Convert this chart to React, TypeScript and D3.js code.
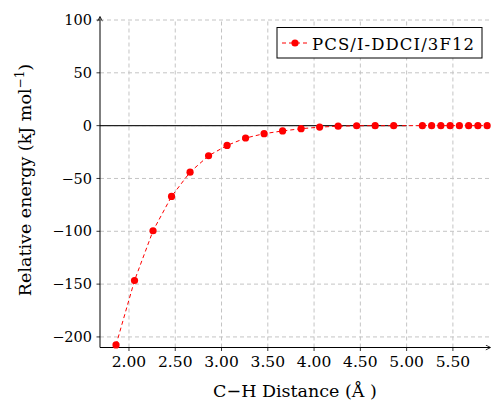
import { useEffect, useRef } from "react";
import * as d3 from "d3";

// C–H distance (Å) and relative energy (kJ/mol)
const distances = [
  1.86, 2.06, 2.26, 2.46, 2.66, 2.86, 3.06, 3.26, 3.46, 3.66, 3.86, 4.06, 4.26, 4.46, 4.66, 4.86,
  5.17, 5.27, 5.37, 5.47, 5.57, 5.67, 5.77, 5.87,
];
const energies = [
  -207.6, -146.6, -99.5, -67, -44, -28.5, -18.7, -11.7, -7.6, -5.0, -2.9, -1.4, -0.5, -0.1, 0, 0,
  0, 0, 0, 0, 0, 0, 0, 0,
];
const xTicks = [2.0, 2.5, 3.0, 3.5, 4.0, 4.5, 5.0, 5.5];
const yTicks = [-200, -150, -100, -50, 0, 50, 100];
const seriesName = "PCS/I-DDCI/3F12";

const FONT = "'DejaVu Serif', 'Liberation Serif', serif";

const App = () => {
  const ref = useRef<SVGSVGElement | null>(null);

  useEffect(() => {
    const el = ref.current;
    if (!el) return;
    const svg = d3.select(el);
    svg.selectAll("*").remove();

    const W = 491, H = 403;
    const left = 100, right = 489, top = 20, bottom = 347.5;

    const x = d3.scaleLinear().domain([1.687, 5.89]).range([left, right]);
    const y = d3.scaleLinear().domain([-210, 100]).range([bottom, top]);

    svg.attr("width", W).attr("height", H).style("font-family", FONT);
    svg.append("rect").attr("width", W).attr("height", H).attr("fill", "#fff");

    const defs = svg.append("defs");
    defs.append("marker")
      .attr("id", "arrow")
      .attr("viewBox", "0 0 10 10")
      .attr("refX", 8).attr("refY", 5)
      .attr("markerWidth", 6).attr("markerHeight", 6)
      .attr("orient", "auto")
      .append("path")
      .attr("d", "M1,1 L9,5 L1,9")
      .attr("fill", "none")
      .attr("stroke", "#000")
      .attr("stroke-width", 1.3);

    // ── Grid ──────────────────────────────────────────────
    const grid = svg.append("g")
      .attr("stroke", "#c4c4c4")
      .attr("stroke-width", 1)
      .attr("stroke-dasharray", "4,3");
    xTicks.forEach(t => {
      grid.append("line")
        .attr("x1", x(t)).attr("x2", x(t))
        .attr("y1", bottom).attr("y2", top);
    });
    yTicks.forEach(t => {
      grid.append("line")
        .attr("x1", left).attr("x2", right)
        .attr("y1", y(t)).attr("y2", y(t));
    });

    // ── Zero line ─────────────────────────────────────────
    svg.append("line")
      .attr("x1", left).attr("x2", x(5.0))
      .attr("y1", y(0)).attr("y2", y(0))
      .attr("stroke", "#222")
      .attr("stroke-width", 1.2);

    // ── Axes ──────────────────────────────────────────────
    svg.append("line")
      .attr("x1", left).attr("x2", left)
      .attr("y1", bottom).attr("y2", top - 3)
      .attr("stroke", "#000").attr("stroke-width", 1)
      .attr("marker-end", "url(#arrow)");
    svg.append("line")
      .attr("x1", left).attr("x2", right + 1)
      .attr("y1", bottom).attr("y2", bottom)
      .attr("stroke", "#000").attr("stroke-width", 1)
      .attr("marker-end", "url(#arrow)");

    yTicks.forEach(t => {
      svg.append("line")
        .attr("x1", left - 3.5).attr("x2", left)
        .attr("y1", y(t)).attr("y2", y(t))
        .attr("stroke", "#000").attr("stroke-width", 0.8);
      svg.append("text")
        .attr("x", left - 8)
        .attr("y", y(t))
        .attr("dy", "0.35em")
        .attr("text-anchor", "end")
        .style("font-size", "14.5px")
        .text(t < 0 ? `\u2212${Math.abs(t)}` : `${t}`);
    });

    xTicks.forEach(t => {
      svg.append("line")
        .attr("x1", x(t)).attr("x2", x(t))
        .attr("y1", bottom).attr("y2", bottom + 3.5)
        .attr("stroke", "#000").attr("stroke-width", 0.8);
      svg.append("text")
        .attr("x", x(t))
        .attr("y", bottom + 19.5)
        .attr("text-anchor", "middle")
        .style("font-size", "15.5px")
        .text(t.toFixed(2));
    });

    // ── Axis labels ───────────────────────────────────────
    svg.append("text")
      .attr("x", 295)
      .attr("y", 397)
      .attr("text-anchor", "middle")
      .style("font-size", "17.5px")
      .text("C\u2212H Distance (\u00C5 )");

    const yl = svg.append("text")
      .attr("transform", `translate(31,180) rotate(-90)`)
      .attr("text-anchor", "middle")
      .style("font-size", "17.5px");
    yl.append("tspan").text("Relative energy (kJ mol");
    yl.append("tspan").attr("dy", -7).style("font-size", "12px").text("\u22121");
    yl.append("tspan").attr("dy", 7).text(")");

    // ── Series ────────────────────────────────────────────
    const pts = distances.map((d, i) => [d, energies[i]] as [number, number]);
    svg.append("path")
      .datum(pts)
      .attr("d", d3.line<[number, number]>().x(d => x(d[0])).y(d => y(d[1])))
      .attr("fill", "none")
      .attr("stroke", "#ff0000")
      .attr("stroke-width", 1)
      .attr("stroke-dasharray", "4,3");
    svg.append("g")
      .selectAll("circle")
      .data(pts)
      .enter()
      .append("circle")
      .attr("cx", d => x(d[0]))
      .attr("cy", d => y(d[1]))
      .attr("r", 3.6)
      .attr("fill", "#ff0000");

    // ── Legend ────────────────────────────────────────────
    const lg = svg.append("g");
    lg.append("rect")
      .attr("x", 277).attr("y", 27.5)
      .attr("width", 205).attr("height", 30.5)
      .attr("fill", "#fff")
      .attr("stroke", "#000")
      .attr("stroke-width", 1);
    lg.append("line")
      .attr("x1", 282).attr("x2", 307)
      .attr("y1", 43).attr("y2", 43)
      .attr("stroke", "#ff0000")
      .attr("stroke-dasharray", "4,3");
    lg.append("circle")
      .attr("cx", 295).attr("cy", 43).attr("r", 3.6)
      .attr("fill", "#ff0000");
    lg.append("text")
      .attr("x", 312).attr("y", 49.5)
      .style("font-size", "16.5px")
      .attr("textLength", 162)
      .text(seriesName);

    return () => { svg.selectAll("*").remove(); };
  }, []);

  return (
    <svg
      ref={ref}
      style={{ position: "absolute", left: 0, top: 0, display: "block" }}
    />
  );
};

export default App;
